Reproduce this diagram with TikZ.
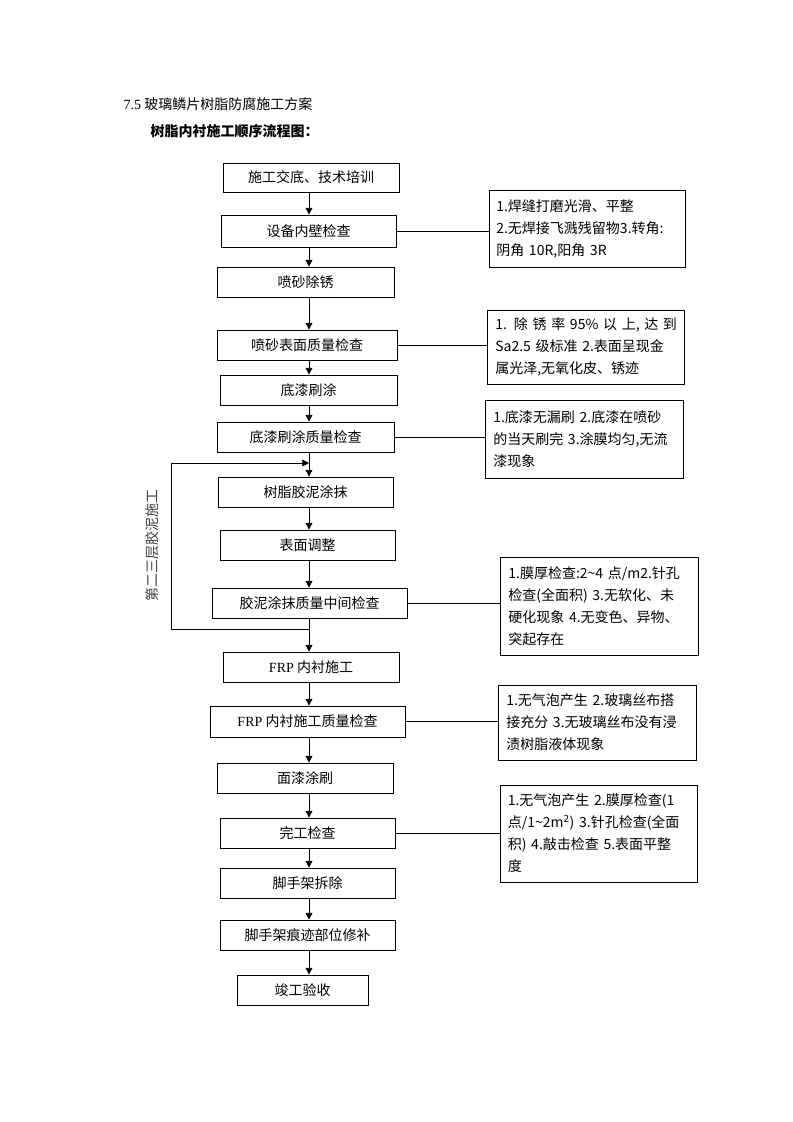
\documentclass[tikz,border=0pt]{standalone}
\usepackage{fontspec}
\setmainfont{Noto Sans CJK SC}
\newfontfamily\lser{Liberation Serif}
\usetikzlibrary{arrows.meta,calc}
\begin{document}
\begin{tikzpicture}[x=0.75pt,y=-0.75pt,
  box/.style 2 args={draw, line width=0.6pt, minimum width=#1*0.75pt, minimum height=#2*0.75pt, inner sep=0pt, font=\fontsize{10.5}{12}\selectfont},
  note/.style 2 args={draw, line width=0.6pt, minimum width=#1*0.75pt, minimum height=#2*0.75pt, inner sep=0pt, text width=136pt, align=left, font=\fontsize{10.5}{16.5}\selectfont},
  arr/.style={-{Triangle[length=5pt,width=5pt]}, line width=0.6pt},
  link/.style={line width=0.6pt}]
\fill[white] (0,0) rectangle (793,1122);
\useasboundingbox (0,0) rectangle (793,1122);

\node[anchor=west, font=\fontsize{10.5}{12}\selectfont] (t1) at (119,104) {{\lser 7.5} 玻璃鳞片树脂防腐施工方案};
\node[anchor=west, font=\fontsize{10.5}{12}\selectfont\bfseries] (t2) at (146,131) {树脂内衬施工顺序流程图：};

\coordinate (ax) at (309,0);

\node[box={176}{29}] (B1) at (311,177.5) {施工交底、技术培训};
\node[box={175}{32}] (B2) at (308.5,231) {设备内壁检查};
\node[box={177}{30}] (B3) at (305.5,282) {喷砂除锈};
\node[box={180}{30}] (B4) at (307,345) {喷砂表面质量检查};
\node[box={177}{30}] (B5) at (308.5,390) {底漆刷涂};
\node[box={177}{30}] (B6) at (305.5,437) {底漆刷涂质量检查};
\node[box={175}{30}] (B7) at (305.5,492) {树脂胶泥涂抹};
\node[box={175}{30}] (B8) at (307.5,545) {表面调整};
\node[box={195}{30}] (B9) at (309.5,603) {胶泥涂抹质量中间检查};
\node[box={176}{30}] (B10) at (311,667) {{\lser FRP} 内衬施工};
\node[box={195}{31}] (B11) at (307.5,721.5) {{\lser FRP} 内衬施工质量检查};
\node[box={176}{30}] (B12) at (305,778) {面漆涂刷};
\node[box={175}{30}] (B13) at (307.5,833) {完工检查};
\node[box={175}{30}] (B14) at (307.5,883) {脚手架拆除};
\node[box={175}{30}] (B15) at (307.5,935) {脚手架痕迹部位修补};
\node[box={131}{30}] (B16) at (302.5,990) {竣工验收};

\foreach \a/\b in {B1/B2,B2/B3,B3/B4,B4/B5,B5/B6,B6/B7,B7/B8,B8/B9,B9/B10,B10/B11,B11/B12,B12/B13,B13/B14,B14/B15,B15/B16}
  \draw[arr] (\a.south -| ax) -- (\b.north -| ax);

% loop
\coordinate (LT) at (171,463);
\coordinate (LB) at (171,629);
\draw[arr] (LB -| ax) -- (LB) -- (LT) -- (LT -| ax);
\node[rotate=90, text=black!75, font=\fontsize{10.5}{12}\selectfont] (lab) at (152,545) {第二三层胶泥施工};

% notes
\node[note={196}{77}] (S1) at (587,228.5) {1.焊缝打磨光滑、平整\\2.无焊接飞溅残留物3.转角:\\阴角 10R,阳角 3R};
\node[note={197}{74}] (S2) at (586,347) {\makebox[\linewidth][s]{1. 除 锈 率 95\% 以 上, 达 到}\\Sa2.5 级标准 2.表面呈现金\\属光泽,无氧化皮、锈迹};
\node[note={198}{78}] (S3) at (584,439) {1.底漆无漏刷 2.底漆在喷砂\\的当天刷完 3.涂膜均匀,无流\\漆现象};
\node[note={198}{98}] (S4) at (599,606) {1.膜厚检查:2\textasciitilde4 点/m2.针孔\\检查(全面积) 3.无软化、未\\硬化现象 4.无变色、异物、\\突起存在};
\node[note={198}{75}] (S5) at (597,722.5) {1.无气泡产生 2.玻璃丝布搭\\接充分 3.无玻璃丝布没有浸\\渍树脂液体现象};
\node[note={197}{97}] (S6) at (598.5,833.5) {1.无气泡产生 2.膜厚检查(1\\点/1\textasciitilde2m\textsuperscript{2}) 3.针孔检查(全面\\积) 4.敲击检查 5.表面平整\\度};

\draw[link] (B2.east) -- (B2.east -| S1.west);
\draw[link] (B4.east) -- (B4.east -| S2.west);
\draw[link] (B6.east) -- (B6.east -| S3.west);
\draw[link] (B9.east) -- (B9.east -| S4.west);
\draw[link] (B11.east) -- (B11.east -| S5.west);
\draw[link] (B13.east) -- (B13.east -| S6.west);
\end{tikzpicture}
\end{document}
